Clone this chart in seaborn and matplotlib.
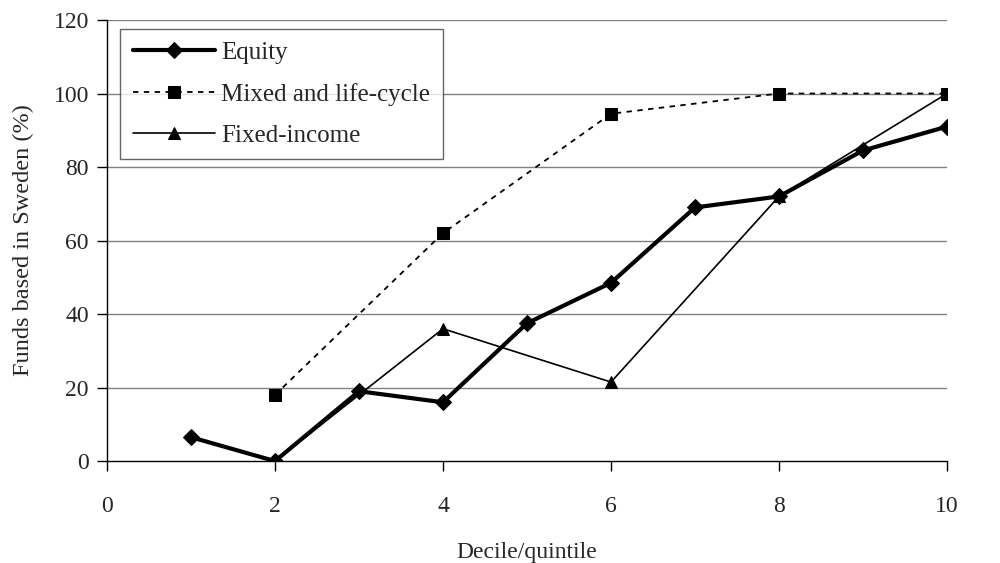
import matplotlib
matplotlib.use("Agg")
import matplotlib.pyplot as plt
import seaborn as sns

# data
equity_x = [1, 2, 3, 4, 5, 6, 7, 8, 9, 10]
equity_y = [6.5, 0, 19, 16, 37.5, 48.5, 69, 72, 84.5, 91]
mixed_x = [2, 4, 6, 8, 10]
mixed_y = [18, 62, 94.5, 100, 100]
fixed_x = [2, 4, 6, 8, 10]
fixed_y = [0, 36, 21.5, 72, 100]

sns.set_style("white")
plt.rcParams['font.family'] = ['Liberation Serif', 'DejaVu Serif']

fig = plt.figure(figsize=(10, 5.63), dpi=100)
ax = fig.add_axes([0.107, 0.181, 0.84, 0.7835])

for y in range(20, 121, 20):
    ax.axhline(y, color='#808080', lw=1, zorder=0)

sns.lineplot(x=equity_x, y=equity_y, ax=ax, color='black', lw=3,
             marker='D', markersize=8, markeredgecolor='black',
             label='Equity')
sns.lineplot(x=mixed_x, y=mixed_y, ax=ax, color='black', lw=1.3,
             linestyle=(0, (3, 3)), marker='s', markersize=8,
             markeredgecolor='black', label='Mixed and life-cycle')
sns.lineplot(x=fixed_x, y=fixed_y, ax=ax, color='black', lw=1.2,
             marker='^', markersize=9, markeredgecolor='black',
             label='Fixed-income')

ax.set_xlim(0, 10)
ax.set_ylim(0, 120)
ax.set_xticks(range(0, 11, 2))
ax.set_yticks(range(0, 121, 20))
ax.tick_params(axis='both', labelsize=17, direction='out', length=7,
               width=1, color='black', bottom=True, left=True)
ax.tick_params(axis='x', pad=18)
ax.tick_params(axis='y', pad=6)
for side in ['top', 'right']:
    ax.spines[side].set_visible(False)
for side in ['left', 'bottom']:
    ax.spines[side].set_color('black')
    ax.spines[side].set_linewidth(1)

ax.set_xlabel('Decile/quintile', fontsize=17, labelpad=18)
ax.set_ylabel('Funds based in Sweden (%)', fontsize=17.5, labelpad=14)

leg = ax.legend(loc='upper left', bbox_to_anchor=(0.0155, 0.98), fontsize=18,
                frameon=True, fancybox=False, handlelength=3.3,
                borderpad=0.5, labelspacing=0.75, handletextpad=0.25,
                borderaxespad=0)
leg.get_frame().set_edgecolor('#404040')
leg.get_frame().set_linewidth(1)

fig.savefig('out.png', dpi=100)
